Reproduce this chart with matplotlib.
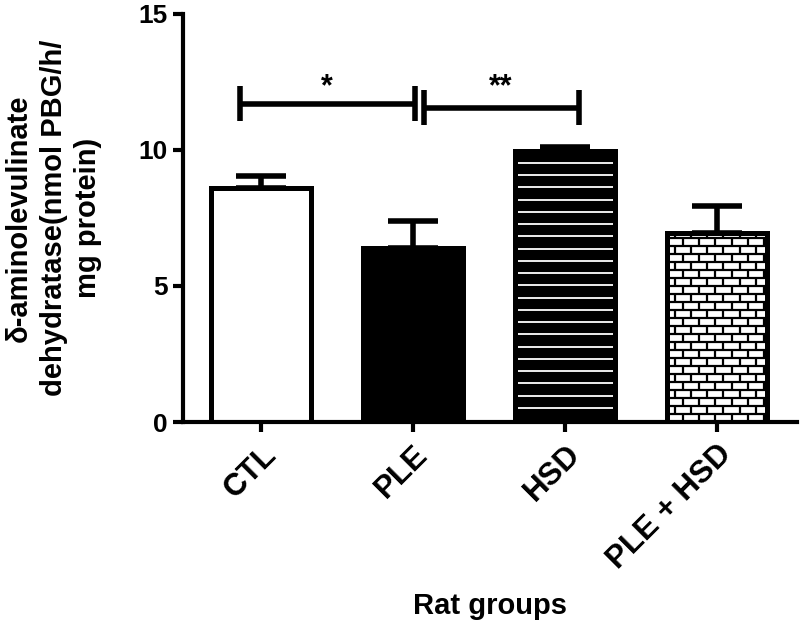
"""Bar chart of delta-ALA-D activity per rat group"""

import numpy as np
import matplotlib
matplotlib.use("Agg")
from matplotlib import pyplot as plt

groups = ["CTL", "PLE", "HSD", "PLE + HSD"]
means = [8.6, 6.4, 9.95, 6.95]
sem = [0.45, 1.0, 0.15, 1.0]
y_ticks = [0, 5, 10, 15]

# significance brackets: start / end (category units), height, stars
sig_starts = [-0.14, 1.07]
sig_ends = [1.01, 2.09]
sig_heights = [11.7, 11.55]
sig_labels = ["*", "**"]
star_height = 12.0

plt.rcParams["font.family"] = ["Liberation Sans", "DejaVu Sans"]
plt.rcParams["font.weight"] = "bold"

fig = plt.figure(figsize=(8, 6.28), dpi=100)
ax = fig.add_axes([0.229, 0.328, 0.767, 0.65])

x = np.arange(len(groups))
width = 0.66
faces = ["white", "black", "black", "white"]

fills = ax.bar(x, means, width=width, color=faces, linewidth=0, zorder=2)

# white horizontal stripes on the HSD bar
hsd = fills[2]
stripe_y = np.arange(0.52, means[2] - 0.3, 0.45)
stripes = ax.hlines(stripe_y, x[2] - width / 2, x[2] + width / 2,
                    colors="white", linewidth=1.3, zorder=2.5)
stripes.set_clip_path(hsd)

# brick pattern on the PLE + HSD bar
brick = fills[3]
row_h = 0.294
brick_w = 0.1066
left = x[3] - width / 2
right = x[3] + width / 2
rows = np.arange(0, means[3], row_h)
mortar = ax.hlines(rows[1:], left, right, colors="black", linewidth=1.6, zorder=2.5)
mortar.set_clip_path(brick)
for i, r in enumerate(rows):
    offs = np.arange(left + (i % 2) * brick_w / 2, right, brick_w)
    joints = ax.vlines(offs, r, r + row_h, colors="black", linewidth=1.6, zorder=2.5)
    joints.set_clip_path(brick)

ax.bar(x, means, width=width, fill=False, edgecolor="black", linewidth=3.6, zorder=3)
ax.errorbar(x, means, yerr=[np.zeros(len(x)), sem], fmt="none", ecolor="black",
            elinewidth=4, capsize=18, capthick=4, zorder=4)

for x0, x1, h, lab in zip(sig_starts, sig_ends, sig_heights, sig_labels):
    ax.plot([x0, x1], [h, h], color="black", linewidth=4, solid_capstyle="butt")
    ax.vlines([x0, x1], h - 0.65, h + 0.65, colors="black", linewidth=4)
    ax.text((x0 + x1) / 2, star_height, lab, ha="center", va="baseline", fontsize=22)

ax.set_xlim(-0.513, 3.526)
ax.set_ylim(0, 15)
ax.set_yticks(y_ticks)
ax.set_xticks(x)
ax.set_xticklabels(groups, rotation=45, ha="right", rotation_mode="anchor", fontsize=22.5)
ax.tick_params(axis="y", labelsize=19, width=3, length=7, pad=4)
ax.tick_params(axis="x", width=3, length=7.5, pad=5)
for s in ["top", "right"]:
    ax.spines[s].set_visible(False)
for s in ["left", "bottom"]:
    ax.spines[s].set_linewidth(3)

ax.set_ylabel("δ-aminolevulinate\ndehydratase(nmol PBG/h/\nmg protein)",
              fontsize=21, fontweight="bold", linespacing=1.3)
ax.yaxis.set_label_coords(-0.132, 0.5)
ax.set_xlabel("Rat groups", fontsize=21, fontweight="bold")
ax.xaxis.set_label_coords(0.5, -0.416)

fig.savefig("out.png", dpi=100)
